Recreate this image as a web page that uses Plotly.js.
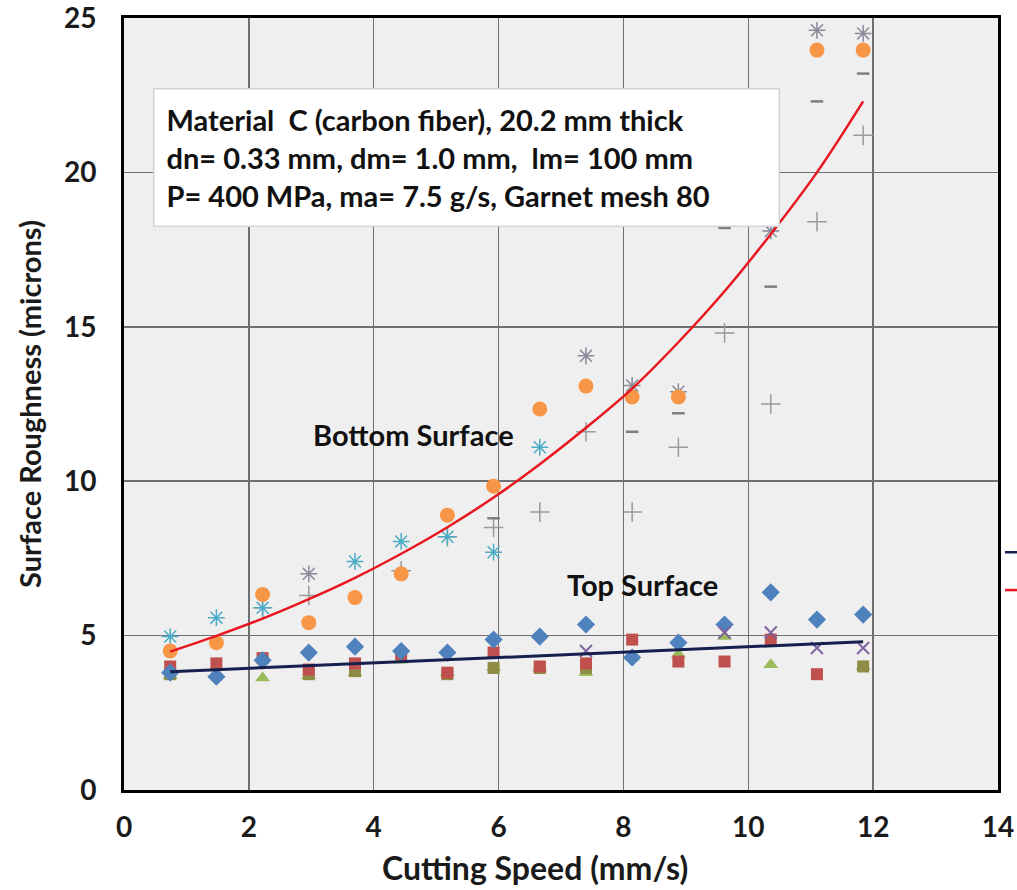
<!DOCTYPE html>
<html>
<head>
<meta charset="utf-8">
<script src="https://cdn.plot.ly/plotly-3.0.1.min.js"></script>
<style>html,body{margin:0;padding:0;background:#fff}#chart{width:1017px;height:890px}</style>
</head>
<body>
<div id="chart"></div>
<script>
// Cutting speeds (mm/s)
const speeds = [0.74, 1.48, 2.22, 2.96, 3.70, 4.44, 5.18, 5.92, 6.66, 7.40, 8.14, 8.88, 9.62, 10.36, 11.10, 11.84];

// Bottom surface series (microns)
const bottomCircle = [4.5, 4.77, 6.33, 5.42, 6.23, 7.0, 8.9, 9.84, 12.34, 13.08, 12.73, 12.73, null, null, 23.96, 23.96];
const bottomAsteriskTeal = [4.97, 5.58, 5.9, null, 7.4, 8.05, 8.2, 7.7, 11.1, null, null, null, null, null, null, null];
const bottomAsteriskGray = [null, null, null, 7.0, null, null, null, null, null, 14.06, 13.1, 12.9, null, 18.1, 24.6, 24.5];
const bottomPlus = [null, null, 5.9, 6.3, null, 7.1, 8.2, 8.5, 9.0, 11.6, 9.0, 11.1, 14.8, 12.5, 18.4, 21.2];
const bottomDash = [null, null, null, null, null, null, null, 8.8, null, null, 11.6, 12.2, 18.2, 16.3, 22.3, 23.2];

// Top surface series (microns)
const topDiamond = [3.8, 3.67, 4.2, 4.45, 4.64, 4.5, 4.45, 4.87, 4.97, 5.36, 4.29, 4.77, 5.36, 6.4, 5.52, 5.68];
const topSquare = [4.0, 4.1, 4.27, 3.9, 4.1, 4.4, 3.8, 4.45, 4.0, 4.1, 4.87, 4.16, 4.16, 4.87, 3.75, null];
const topTriangle = [3.7, 3.75, 3.63, 3.7, 3.8, 4.2, 3.8, 3.96, 3.95, 3.8, 4.3, 4.4, 4.97, 4.06, null, 4.0];
const topSquareOlive = [3.75, null, null, 3.75, 3.85, null, 3.75, 3.95, 3.95, 3.95, null, null, null, null, null, 4.0];
const topX = [null, null, null, null, null, null, null, null, null, 4.5, null, null, 5.1, 5.1, 4.6, 4.6];

// Trend lines
const bottomTrend = [4.48, 4.99, 5.55, 6.18, 6.87, 7.65, 8.51, 9.47, 10.55, 11.73, 13.0, 14.5, 16.15, 18.0, 20.0, 22.3];
const topTrendX = [0.74, 11.84];
const topTrend = [3.83, 4.8];

// Texts
const xTitle = 'Cutting Speed (mm/s)';
const yTitle = 'Surface Roughness (microns)';
const infoLines = ['Material  C (carbon fiber), 20.2 mm thick', 'dn= 0.33 mm, dm= 1.0 mm,  lm= 100 mm', 'P= 400 MPa, ma= 7.5 g/s, Garnet mesh 80'];

const FONT = 'Lato, "Open Sans", sans-serif';

function sc(y, symbol, color, size, lw, lineColor) {
  return {
    x: speeds, y: y, type: 'scatter', mode: 'markers', showlegend: false, hoverinfo: 'skip',
    marker: {symbol: symbol, color: color, size: size, line: {width: lw || 0, color: lineColor || color}}
  };
}

const traces = [
  sc(topTriangle, 'triangle-up', '#9BBB59', 13),
  sc(topSquareOlive, 'square', '#8F8C45', 12),
  sc(topSquare, 'square', '#C0504D', 12),
  sc(topDiamond, 'diamond', '#4F81BD', 14),
  sc(topX, 'x-thin-open', '#8064A2', 12, 2),
  sc(bottomPlus, 'cross-thin-open', '#9a9a9a', 14, 1.5),
  sc(bottomDash, 'line-ew-open', '#7f7f7f', 9, 2.5),
  sc(bottomAsteriskGray, 'asterisk-open', '#8a8a9a', 14, 1.5),
  sc(bottomAsteriskTeal, 'asterisk-open', '#4BACC6', 14, 1.5),
  sc(bottomCircle, 'circle', '#F79646', 15),
  {x: speeds, y: bottomTrend, type: 'scatter', mode: 'lines', showlegend: false, hoverinfo: 'skip',
   line: {color: '#E8161E', width: 2.5, shape: 'spline', smoothing: 1}},
  {x: topTrendX, y: topTrend, type: 'scatter', mode: 'lines', showlegend: false, hoverinfo: 'skip',
   line: {color: '#16204F', width: 3}}
];

const layout = {
  width: 1017, height: 890,
  margin: {l: 124, r: 19, t: 18, b: 100},
  paper_bgcolor: '#ffffff', plot_bgcolor: '#efefef',
  font: {family: FONT, color: '#1a1a1a'},
  xaxis: {
    range: [0, 14], dtick: 2, tick0: 0, showgrid: true, gridcolor: '#707070', gridwidth: 1.5,
    zeroline: false, showline: true, linecolor: '#000', linewidth: 3, mirror: true, ticks: '',
    tickfont: {family: FONT, size: 28, color: '#1a1a1a', weight: 'bold'}, ticklabelstandoff: 10,
    ticklabeloverflow: 'allow'
  },
  yaxis: {
    range: [0, 25], dtick: 5, tick0: 0, showgrid: true, gridcolor: '#707070', gridwidth: 1.5,
    zeroline: false, showline: true, linecolor: '#000', linewidth: 3, mirror: true, ticks: '',
    tickfont: {family: FONT, size: 28, color: '#1a1a1a', weight: 'bold'}, ticklabelstandoff: 19,
    ticklabeloverflow: 'allow',
    title: {text: '<b>' + yTitle + '</b>', font: {family: FONT, size: 29, color: '#1a1a1a'}, standoff: 14}
  },
  annotations: [
    {xref: 'paper', yref: 'paper', x: 0.470, y: -0.101, xanchor: 'center', yanchor: 'middle',
     text: '<b>' + xTitle + '</b>', showarrow: false,
     font: {family: FONT, size: 32, color: '#1a1a1a'}},
    {xref: 'paper', yref: 'paper', x: 0.033, y: 0.909, xanchor: 'left', yanchor: 'top',
     text: '<b>' + infoLines.join('<br>') + '</b>', align: 'left', valign: 'middle', showarrow: false,
     width: 600, height: 112, bgcolor: '#ffffff', bordercolor: '#d4d4d4', borderwidth: 1.5, borderpad: 12,
     font: {family: FONT, size: 29, color: '#111'}},
    {xref: 'x', yref: 'y', x: 4.64, y: 11.5, text: '<b>Bottom Surface</b>', showarrow: false,
     font: {family: FONT, size: 29, color: '#111'}},
    {xref: 'x', yref: 'y', x: 8.3, y: 6.66, text: '<b>Top Surface</b>', showarrow: false,
     font: {family: FONT, size: 29, color: '#111'}}
  ],
  shapes: [
    {type: 'line', xref: 'paper', yref: 'paper', x0: 1.008, x1: 1.03, y0: 0.308, y1: 0.308, line: {color: '#16204F', width: 2.5}},
    {type: 'line', xref: 'paper', yref: 'paper', x0: 1.008, x1: 1.03, y0: 0.259, y1: 0.259, line: {color: '#E8161E', width: 2.5}}
  ]
};

Plotly.newPlot('chart', traces, layout, {displayModeBar: false, staticPlot: true});
</script>
</body>
</html>
